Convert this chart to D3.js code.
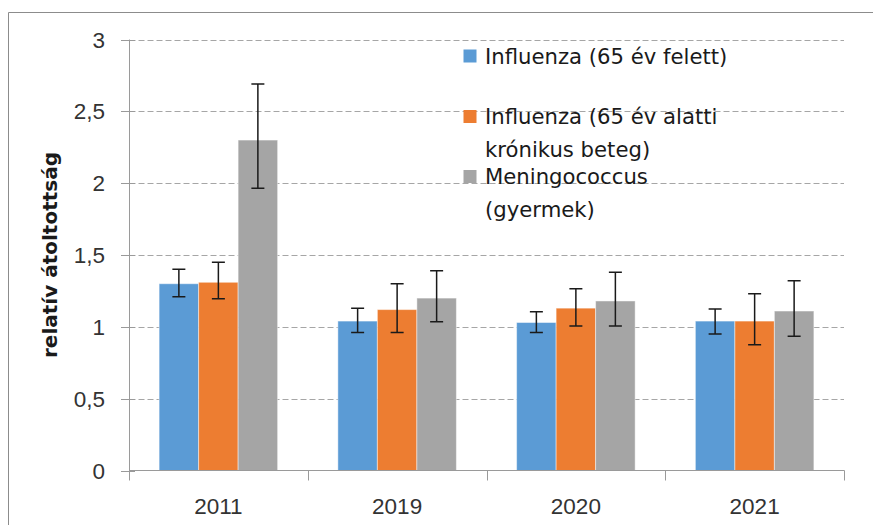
<!DOCTYPE html>
<html>
<head>
<meta charset="utf-8">
<script src="https://cdn.jsdelivr.net/npm/d3@7"></script>
<style>
  body { margin: 0; background: #fff; }
  svg { display: block; }
</style>
</head>
<body>
<svg id="canvas" width="873" height="525"></svg>
<script>
// chart data
let years = ['2011', '2019', '2020', '2021'];
let seriesNames = ['Influenza (65 év felett)', 'Influenza (65 év alatti krónikus beteg)', 'Meningococcus (gyermek)'];
let legendLines = [['Influenza (65 év felett)'], ['Influenza (65 év alatti', 'krónikus beteg)'], ['Meningococcus', '(gyermek)']];
let colors = ['#5b9bd5', '#ed7d31', '#a5a5a5'];

let influenzaOver65 = [1.30, 1.04, 1.03, 1.04];
let influenzaUnder65 = [1.31, 1.12, 1.13, 1.04];
let meningococcus = [2.30, 1.20, 1.18, 1.11];

let influenzaOver65Hi = [1.40, 1.13, 1.105, 1.125];
let influenzaOver65Lo = [1.21, 0.96, 0.96, 0.95];
let influenzaUnder65Hi = [1.45, 1.30, 1.265, 1.23];
let influenzaUnder65Lo = [1.195, 0.96, 1.005, 0.875];
let meningococcusHi = [2.69, 1.39, 1.38, 1.32];
let meningococcusLo = [1.965, 1.035, 1.005, 0.935];

let yTicks = [0, 0.5, 1, 1.5, 2, 2.5, 3];
let yTitle = 'relatív átoltottság';

let values = [influenzaOver65, influenzaUnder65, meningococcus];
let his = [influenzaOver65Hi, influenzaUnder65Hi, meningococcusHi];
let los = [influenzaOver65Lo, influenzaUnder65Lo, meningococcusLo];

let canvas = d3.select('#canvas');

// outer frame (only top and left visible)
canvas.append('path')
    .attr('d', 'M8.5,525 V12.5 H873')
    .attr('fill', 'none')
    .attr('stroke', '#8c8c8c')
    .attr('stroke-width', 1);

let x0 = d3.scaleBand().domain(years).range([129, 844]).padding(0);
let x1 = d3.scaleBand().domain(d3.range(3)).range([0, x0.bandwidth()]).paddingInner(0).paddingOuter(0.7625);
let y = d3.scaleLinear().domain([0, 3]).range([470.5, 39.5]);

// grid lines
canvas.append('g')
    .selectAll('line')
    .data(yTicks.filter(t => t > 0))
    .enter()
    .append('line')
    .attr('x1', 129.5)
    .attr('x2', 844)
    .attr('y1', d => Math.round(y(d)) + 0.5)
    .attr('y2', d => Math.round(y(d)) + 0.5)
    .attr('stroke', '#a6a6a6')
    .attr('stroke-width', 1)
    .attr('stroke-dasharray', '6,3');

// bars
let rows = [];
values.forEach((s, si) => {
    s.forEach((v, yi) => {
        rows.push({ s: si, year: years[yi], v: v, hi: his[si][yi], lo: los[si][yi] });
    });
});

canvas.append('g')
    .selectAll('rect')
    .data(rows)
    .enter()
    .append('rect')
    .attr('x', d => x0(d.year) + x1(d.s))
    .attr('y', d => y(d.v))
    .attr('width', x1.bandwidth())
    .attr('height', d => y(0) - y(d.v))
    .attr('fill', d => colors[d.s])
    .attr('stroke', '#ffffff')
    .attr('stroke-opacity', 0.45)
    .attr('stroke-width', 1);

// error bars
let err = canvas.append('g')
    .attr('stroke', '#1a1a1a')
    .attr('stroke-width', 1.5)
    .attr('fill', 'none');
let cx = d => x0(d.year) + x1(d.s) + x1.bandwidth() / 2;
err.selectAll('path')
    .data(rows)
    .enter()
    .append('path')
    .attr('d', d => {
        let c = cx(d), t = y(d.hi), b = y(d.lo);
        return 'M' + c + ',' + t + 'V' + b
            + 'M' + (c - 6.5) + ',' + t + 'H' + (c + 6.5)
            + 'M' + (c - 6.5) + ',' + b + 'H' + (c + 6.5);
    });

// y axis
let yAxis = canvas.append('g');
yAxis.append('line')
    .attr('x1', 129.5).attr('x2', 129.5)
    .attr('y1', y(3)).attr('y2', 480.5)
    .attr('stroke', '#9a9a9a');
yAxis.selectAll('line.tick')
    .data(yTicks)
    .enter()
    .append('line')
    .attr('class', 'tick')
    .attr('x1', 121).attr('x2', 135)
    .attr('y1', d => Math.round(y(d)) + 0.5)
    .attr('y2', d => Math.round(y(d)) + 0.5)
    .attr('stroke', '#9a9a9a');
yAxis.selectAll('text')
    .data(yTicks)
    .enter()
    .append('text')
    .attr('x', 105)
    .attr('y', d => y(d) + 8)
    .attr('text-anchor', 'end')
    .attr('font-family', 'Liberation Sans, Arial, sans-serif')
    .attr('font-size', 22.5)
    .attr('fill', '#333')
    .text(d => String(d).replace('.', ','));

// x axis
let xAxis = canvas.append('g');
xAxis.append('line')
    .attr('x1', 129).attr('x2', 844.5)
    .attr('y1', 470.5).attr('y2', 470.5)
    .attr('stroke', '#9a9a9a');
xAxis.selectAll('line.tick')
    .data(years.slice(1).map(d => x0(d)).concat([x0.range()[1]]))
    .enter()
    .append('line')
    .attr('class', 'tick')
    .attr('x1', d => Math.round(d) + 0.5).attr('x2', d => Math.round(d) + 0.5)
    .attr('y1', 470.5).attr('y2', 480.5)
    .attr('stroke', '#9a9a9a');
xAxis.selectAll('text')
    .data(years)
    .enter()
    .append('text')
    .attr('x', d => x0(d) + x0.bandwidth() / 2)
    .attr('y', 514)
    .attr('text-anchor', 'middle')
    .attr('font-family', 'Liberation Sans, Arial, sans-serif')
    .attr('font-size', 22.5)
    .attr('fill', '#333')
    .text(d => d);

// y title
canvas.append('text')
    .attr('transform', 'translate(57,255) rotate(-90)')
    .attr('text-anchor', 'middle')
    .attr('font-family', 'DejaVu Sans, sans-serif')
    .attr('font-weight', 'bold')
    .attr('font-size', 20)
    .attr('fill', '#1a1a1a')
    .text(yTitle);

// legend
let legendTop = [49.5, 110, 170];
let legend = canvas.append('g');
legendLines.forEach((lines, i) => {
    legend.append('rect')
        .attr('x', 463.5)
        .attr('y', legendTop[i])
        .attr('width', 13)
        .attr('height', 13)
        .attr('fill', colors[i]);
    lines.forEach((line, j) => {
        legend.append('text')
            .attr('x', 485)
            .attr('y', legendTop[i] + 14 + j * 32.5)
            .attr('font-family', 'DejaVu Sans, sans-serif')
            .attr('font-size', 21.2)
            .attr('fill', '#1a1a1a')
            .text(line);
    });
});
</script>
</body>
</html>
